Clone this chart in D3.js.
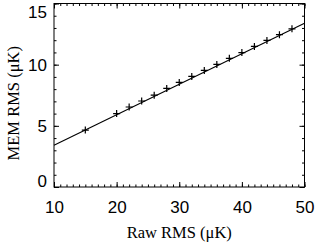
<!DOCTYPE html>
<html>
<head>
<meta charset="utf-8">
<script src="https://cdn.jsdelivr.net/npm/d3@7"></script>
<style>
  body { margin: 0; background: #fff; }
  svg { display: block; }
  .tick text { font-family: "Liberation Sans", Arial, sans-serif; font-size: 17px; fill: #000; }
  text.title { font-family: "Liberation Serif", "Times New Roman", Times, serif; font-size: 16.5px; fill: #000; }
</style>
</head>
<body>
<div id="chart"></div>
<script>
// Data
const rawRms = [15, 20, 22, 24, 26, 28, 30, 32, 34, 36, 38, 40, 42, 44, 46, 48];
const memRms = [4.65, 6.0, 6.54, 7.03, 7.51, 8.06, 8.55, 9.04, 9.53, 10.02, 10.52, 10.99, 11.49, 11.98, 12.45, 12.93];
const fitX = [10, 50];
const fitY = [3.42, 13.38];
const xTicks = [10, 20, 30, 40, 50];
const yTicks = [0, 5, 10, 15];

const width = 317, height = 243;
const box = { left: 54, right: 304.5, top: 3.5, bottom: 187 };

const svg = d3.select("#chart").append("svg")
    .attr("width", width)
    .attr("height", height);

const x = d3.scaleLinear().domain([10, 50]).range([box.left, box.right]);
const y = d3.scaleLinear().domain([0, 15]).range([box.bottom, box.top]);

// minor ticks (every 1 unit) on all four sides
const xMinor = d3.range(10, 51, 1);
const yMinor = d3.range(0, 16, 1);
const minorLen = 2.5, majorLen = 5;

function tickAxis(axisFn, scale, values, len, transform) {
    const g = svg.append("g")
        .attr("transform", transform)
        .call(axisFn(scale).tickValues(values).tickSize(len).tickFormat(""));
    g.select(".domain").remove();
    g.selectAll("line").attr("stroke", "#000").attr("stroke-width", 1);
    return g;
}

tickAxis(d3.axisTop, x, xMinor, minorLen, `translate(0,${box.bottom})`);
tickAxis(d3.axisTop, x, xTicks, majorLen, `translate(0,${box.bottom})`);
tickAxis(d3.axisBottom, x, xMinor, minorLen, `translate(0,${box.top})`);
tickAxis(d3.axisBottom, x, xTicks, majorLen, `translate(0,${box.top})`);
tickAxis(d3.axisRight, y, yMinor, minorLen, `translate(${box.left},0)`);
tickAxis(d3.axisRight, y, yTicks, majorLen, `translate(${box.left},0)`);
tickAxis(d3.axisLeft, y, yMinor, minorLen, `translate(${box.right},0)`);
tickAxis(d3.axisLeft, y, yTicks, majorLen, `translate(${box.right},0)`);

// frame
svg.append("rect")
    .attr("x", box.left).attr("y", box.top)
    .attr("width", box.right - box.left).attr("height", box.bottom - box.top)
    .attr("fill", "none").attr("stroke", "#000").attr("stroke-width", 1);

// tick labels
const xLab = svg.append("g")
    .attr("transform", `translate(0,${box.bottom})`)
    .call(d3.axisBottom(x).tickValues(xTicks).tickSize(0).tickPadding(0).tickFormat(d3.format("d")));
xLab.select(".domain").remove();
xLab.selectAll("text").attr("dy", null).attr("y", 26);

const yLab = svg.append("g")
    .attr("transform", `translate(${box.left},0)`)
    .call(d3.axisLeft(y).tickValues(yTicks).tickSize(0).tickPadding(7).tickFormat(d3.format("d")));
yLab.select(".domain").remove();
yLab.selectAll("text")
    .attr("dy", d => d === 0 ? "-0.02em" : d === 15 ? "0.8em" : "0.34em");

// fit line
const line = d3.line().x(d => x(d[0])).y(d => y(d[1]));
svg.append("path")
    .datum(d3.zip(fitX, fitY))
    .attr("d", line)
    .attr("fill", "none")
    .attr("stroke", "#000")
    .attr("stroke-width", 1.1);

// plus markers
svg.selectAll(".pt")
    .data(d3.zip(rawRms, memRms))
    .enter()
    .append("path")
    .attr("class", "pt")
    .attr("transform", d => `translate(${x(d[0])},${y(d[1])})`)
    .attr("d", "M-3.5,0H3.5M0,-3.5V3.5")
    .attr("stroke", "#000")
    .attr("stroke-width", 1.2);

// axis titles
svg.append("text")
    .attr("class", "title")
    .attr("font-family", "Liberation Serif, serif")
    .attr("x", (box.left + box.right) / 2)
    .attr("y", 238)
    .attr("text-anchor", "middle")
    .text("Raw RMS (μK)");

svg.append("text")
    .attr("class", "title")
    .attr("font-family", "Liberation Serif, serif")
    .attr("transform", `translate(19,${(box.top + box.bottom) / 2 + 8}) rotate(-90)`)
    .attr("text-anchor", "middle")
    .text("MEM RMS (μK)");
</script>
</body>
</html>
